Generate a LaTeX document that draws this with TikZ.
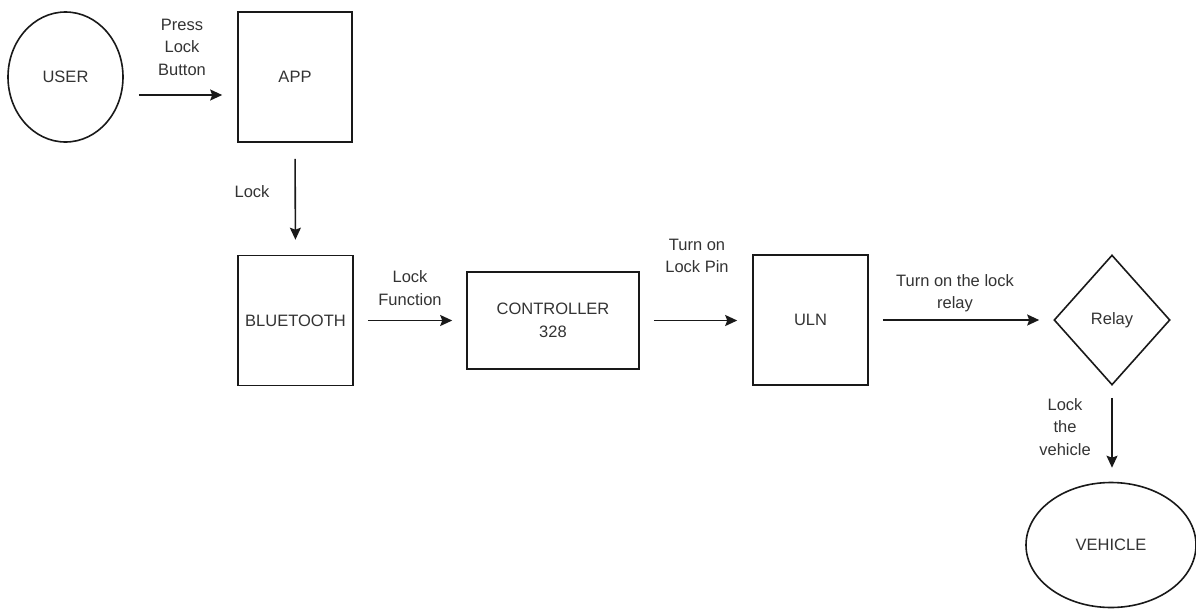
\documentclass[tikz,border=0pt]{standalone}
\usepackage{fontspec}
\setmainfont{Liberation Sans}
\usetikzlibrary{shapes.geometric,arrows.meta}
\begin{document}
\begin{tikzpicture}[x=1pt,y=-1pt,
  every node/.style={font=\fontsize{16.5}{22.5}\selectfont, text=black!80},
  shp/.style={draw=black!90, line width=1.6pt, inner sep=0pt},
  boxn/.style={shp, rectangle},
  ell/.style={shp, ellipse},
  dia/.style={shp, diamond},
  lbl/.style={align=center, inner sep=0pt},
  arr/.style={draw=black!90, line width=1.6pt, -{Stealth[length=12pt,width=11pt,inset=2pt]}}]
\useasboundingbox (0,0) rectangle (1196,608);

\node[ell, minimum width=115pt, minimum height=130pt] (user) at (65.5,77) {USER};
\node[boxn, minimum width=114pt, minimum height=130pt] (app) at (295,77) {APP};
\node[boxn, minimum width=115pt, minimum height=130pt] (bt) at (295.5,320.5) {BLUETOOTH};
\node[boxn, minimum width=172pt, minimum height=97pt, align=center] (ctrl) at (553,320.5) {CONTROLLER\\328};
\node[boxn, minimum width=115pt, minimum height=130pt] (uln) at (810.5,320) {ULN};
\node[dia, minimum width=116pt, minimum height=130pt, aspect=0.9] (relay) at (1112,320) {Relay};
\node[ell, minimum width=170pt, minimum height=125pt] (veh) at (1111,545) {VEHICLE};

\draw[arr, shorten <=15pt, shorten >=15pt] ([yshift=-18pt]user.east) -- ([yshift=-18pt]app.west);
\draw[arr, shorten <=16pt, shorten >=15pt] (app.south) -- (bt.north);
\draw[arr, shorten <=14pt, shorten >=14pt] (bt.east) -- (bt.east -| ctrl.west);
\draw[arr, shorten <=14pt, shorten >=15pt] (ctrl.east) -- (ctrl.east -| uln.west);
\draw[arr, shorten <=14pt, shorten >=14pt] (uln.east) -- (relay.west);
\draw[arr, shorten <=12pt, shorten >=14pt] (relay.south) -- (relay.south |- veh.north);

\node[lbl] (l1) at (182,47) {Press\\Lock\\Button};
\node[lbl] (l2) at (252,192) {Lock};
\node[lbl] (l3) at (410,288) {Lock\\Function};
\node[lbl] (l4) at (697,256) {Turn on\\Lock Pin};
\node[lbl] (l5) at (955,293) {Turn on the lock\\relay};
\node[lbl] (l6) at (1065,427) {Lock\\the\\vehicle};
\end{tikzpicture}
\end{document}
